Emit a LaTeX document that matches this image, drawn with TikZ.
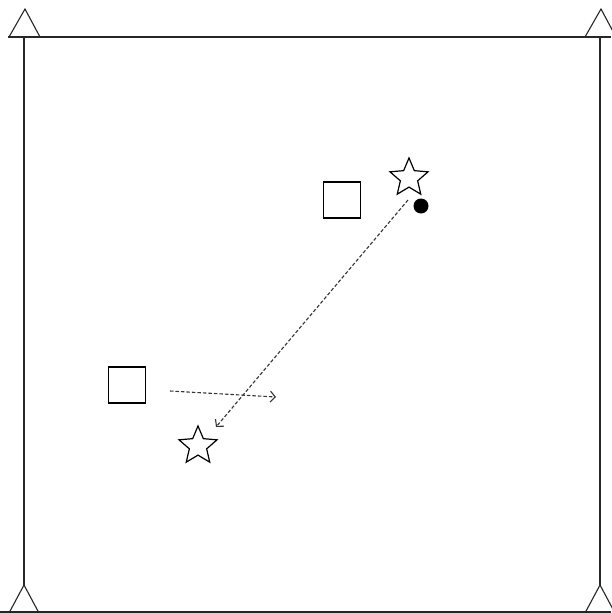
\documentclass[tikz,border=0pt]{standalone}
\usetikzlibrary{shapes.geometric,arrows.meta}
\begin{document}
\begin{tikzpicture}[x=1pt,y=-1pt,
  frame/.style={line width=1.4pt,draw=black!85},
  post/.style={draw=black!85,line width=1.1pt,line join=miter},
  box/.style={draw=black,line width=1.2pt,minimum width=37pt,minimum height=36pt,inner sep=0pt},
  starn/.style={star,star points=5,star point ratio=2.2,draw=black,line width=1.2pt,minimum size=40pt,inner sep=0pt},
  ball/.style={circle,fill=black,minimum size=15pt,inner sep=0pt},
  pass/.style={draw=black!80,line width=1.1pt,dash pattern=on 3.5pt off 2pt,-{Straight Barb[length=5pt,width=11pt]}}]
\useasboundingbox (0,0) rectangle (611,613);
% frame
\coordinate (tl) at (24,37);
\coordinate (tr) at (600,37);
\coordinate (bl) at (24,585);
\coordinate (br) at (600,585);
\coordinate (tlx) at (8,37);
\coordinate (trx) at (611,37);
\draw[frame] (tlx) -- (trx);
\draw[frame] (tl) -- (bl);
\draw[frame] (tr) -- (br);
\draw[frame] (0,612) -- (611,612);
% corner posts
\draw[post] (9,37) -- (25,9) -- (40,37);
\draw[post] (585,37) -- (601,9) -- (616,37);
\draw[post] (9,613) -- (24,585) -- (39,613);
\draw[post] (585,613) -- (600,585) -- (615,613);
% objects
\node[box] (s1) at (342,200) {};
\node[box] (s2) at (127,385) {};
\node[starn] (st1) at (409,178) {};
\node[starn] (st2) at (198,446) {};
\node[ball] (b) at (421,206) {};
% passes
\coordinate (p1) at (408,200);
\coordinate (e1) at (216,427);
\coordinate (p2) at (170,391);
\coordinate (e2) at (276,397);
\draw[pass] (p1) -- (e1);
\draw[pass] (p2) -- (e2);
\end{tikzpicture}
\end{document}
